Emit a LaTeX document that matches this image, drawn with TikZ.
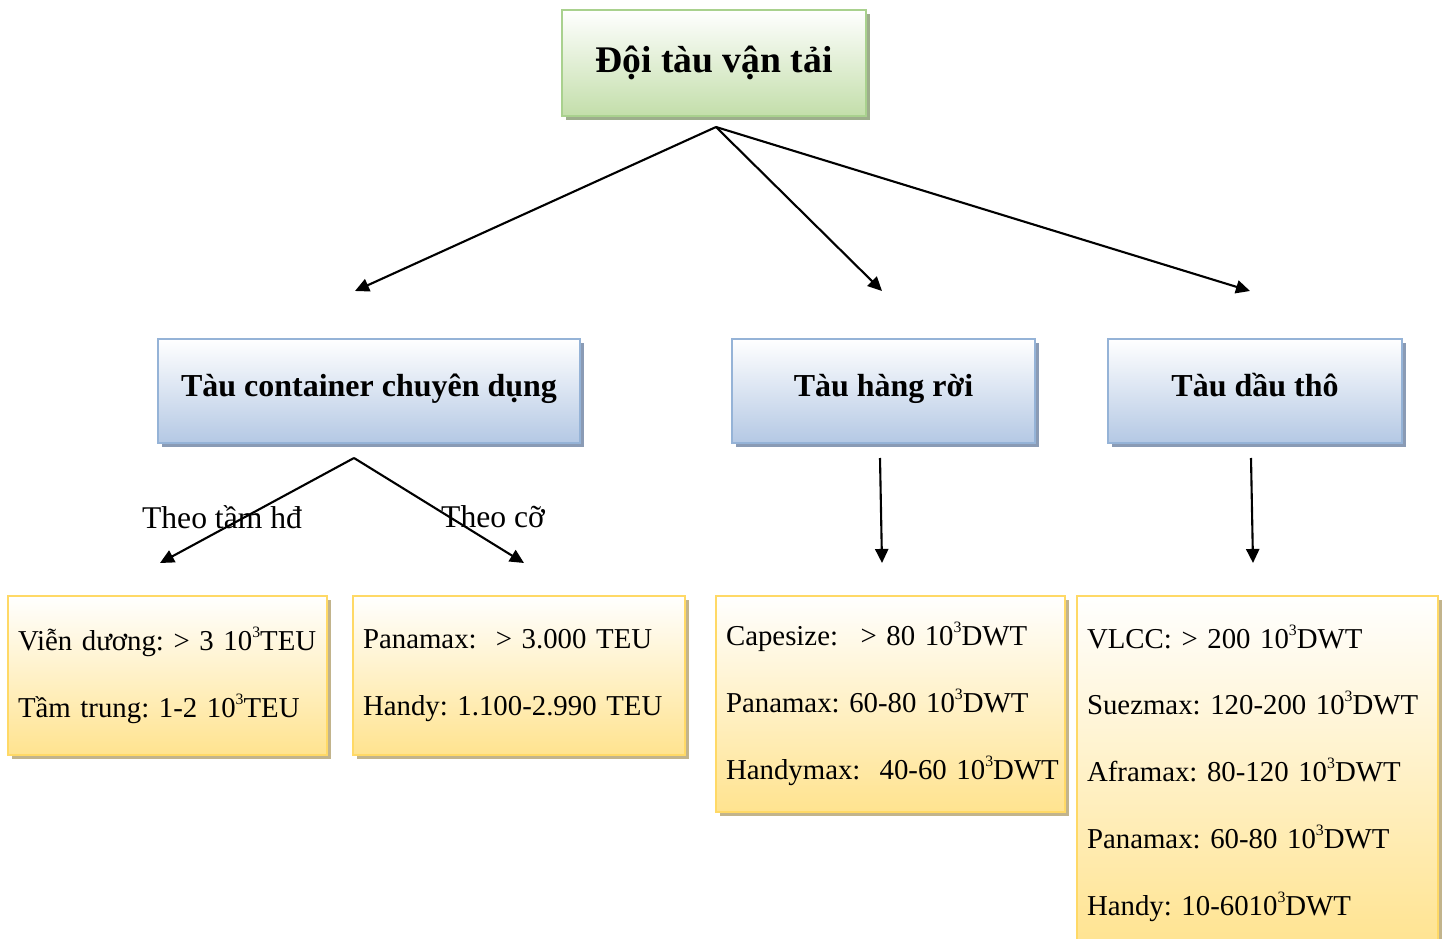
\documentclass[tikz,border=0pt]{standalone}
\usepackage{fontspec}
\setmainfont{Liberation Serif}
\usetikzlibrary{arrows.meta,positioning,shadows}
\definecolor{rootline}{HTML}{A9D18E}
\definecolor{rootfill}{HTML}{C3DEAA}
\definecolor{rootshade}{HTML}{9DAE8C}
\definecolor{kindline}{HTML}{95B3D7}
\definecolor{kindfill}{HTML}{B4C8E4}
\definecolor{kindshade}{HTML}{8A9BB5}
\definecolor{dataline}{HTML}{FFD966}
\definecolor{datafill}{HTML}{FFE38F}
\definecolor{datashade}{HTML}{C2B48C}
\tikzset{
  rootbox/.style={draw=rootline,line width=1.3pt,top color=white,bottom color=rootfill,
    minimum width=6.08cm,minimum height=2.12cm,font=\fontsize{21.4}{26}\selectfont\bfseries,
    drop shadow={shadow xshift=2.3pt,shadow yshift=-2.3pt,fill=rootshade,opacity=1}},
  kindbox/.style={draw=kindline,line width=1.3pt,top color=white,bottom color=kindfill,
    minimum height=2.08cm,text height=12pt,text depth=6pt,font=\fontsize{18.2}{22}\selectfont\bfseries,
    drop shadow={shadow xshift=2.3pt,shadow yshift=-2.3pt,fill=kindshade,opacity=1}},
  databox/.style={draw=dataline,line width=1.3pt,top color=white,bottom color=datafill,
    align=left,inner xsep=0.2cm,font=\fontsize{16.4}{38}\selectfont\frenchspacing,
    drop shadow={shadow xshift=2.3pt,shadow yshift=-2.3pt,fill=datashade,opacity=1}},
  arrow/.style={-{Triangle[length=8pt,width=7.5pt]},line width=1.2pt},
  cue/.style={font=\fontsize{18}{22}\selectfont,inner sep=0pt}
}
\newcommand{\kilo}{10\raisebox{0.45em}{\fontsize{9}{9}\selectfont 3}}

\begin{document}
\begin{tikzpicture}[x=0.02cm,y=-0.02cm]
  \clip (0,0) rectangle (1446,939);
  % upper level
  \node[rootbox] (fleet) at (714,63) {Đội tàu vận tải};
  \node[kindbox,minimum width=8.44cm] (container) at (369,391) {Tàu container chuyên dụng};
  \node[kindbox,minimum width=6.06cm] (bulk) at (883.5,391) {Tàu hàng rời};
  \node[kindbox,minimum width=5.88cm] (crude) at (1255,391) {Tàu dầu thô};
  % lower level
  \node[databox,text width=5.98cm,minimum height=3.18cm] (ocean) at (167.5,675.5)
    {\mbox{Viễn dương: > 3 \kilo TEU}\\Tầm trung: 1-2 \kilo TEU};
  \node[databox,text width=6.24cm,minimum height=3.18cm] (teu) at (519,675.5)
    {Panamax:\ \ > 3.000 TEU\\Handy: 1.100-2.990 TEU};
  \node[databox,text width=6.58cm,minimum height=4.32cm] (dry) at (890.5,704)
    {Capesize:\hspace{0.45cm}> 80 \kilo DWT\\Panamax: 60-80 \kilo DWT\\\mbox{Handymax:\ \ 40-60 \kilo DWT}};
  \node[databox,text width=6.82cm,minimum height=7.08cm] (tank) at (1257.5,773)
    {VLCC: > 200 \kilo DWT\\\mbox{Suezmax: 120-200 \kilo DWT}\\Aframax: 80-120 \kilo DWT\\Panamax: 60-80 \kilo DWT\\Handy: 10-60\kilo DWT};
  % arrow ends
  \coordinate (fleet-out) at (716,127);
  \coordinate (container-in) at (355,291);
  \coordinate (bulk-in) at (882,291);
  \coordinate (crude-in) at (1250,291);
  \coordinate (container-out) at (354,458);
  \coordinate (ocean-in) at (160,563);
  \coordinate (teu-in) at (524,563);
  \coordinate (bulk-out) at (880,458);
  \coordinate (dry-in) at (882,563);
  \coordinate (crude-out) at (1251,458);
  \coordinate (tank-in) at (1253,563);
  \draw[arrow] (fleet-out) -- (container-in);
  \draw[arrow] (fleet-out) -- (bulk-in);
  \draw[arrow] (fleet-out) -- (crude-in);
  \draw[arrow] (container-out) -- (ocean-in);
  \draw[arrow] (container-out) -- (teu-in);
  \draw[arrow] (bulk-out) -- (dry-in);
  \draw[arrow] (crude-out) -- (tank-in);
  \node[cue] (range) at (222,517) {Theo tầm hđ};
  \node[cue] (size) at (493,517) {Theo cỡ};
\end{tikzpicture}
\end{document}
